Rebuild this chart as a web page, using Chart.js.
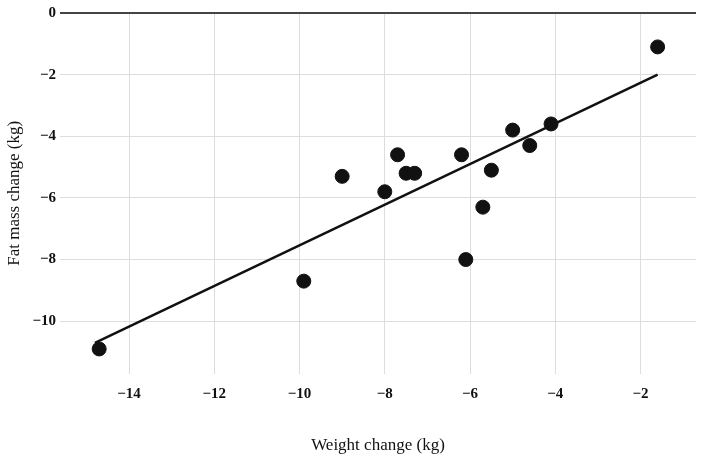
<!DOCTYPE html>
<html><head><meta charset="utf-8">
<script src="https://cdn.jsdelivr.net/npm/chart.js@4"></script>
<style>html,body{margin:0;background:#fff}#wrap{width:704px;height:460px}</style>
</head><body><div id="wrap"><canvas id="c"></canvas></div>
<script>
const weightChange = [-14.7, -9.9, -9.0, -8.0, -7.7, -7.5, -7.3, -6.2, -6.1, -5.7, -5.5, -5.0, -4.6, -4.1, -1.6];
const fatChange = [-10.9, -8.7, -5.3, -5.8, -4.6, -5.2, -5.2, -4.6, -8.0, -6.3, -5.1, -3.8, -4.3, -3.6, -1.1];
const fitX = [-14.8, -1.6];
const fitY = [-10.7, -2.0];

Chart.defaults.font.family = '"Liberation Serif", serif';
Chart.defaults.color = '#111';

new Chart(document.getElementById('c'), {
  type: 'scatter',
  data: {
    datasets: [{
      data: weightChange.map((x, i) => ({x: x, y: fatChange[i]})),
      backgroundColor: '#111', borderColor: '#111', pointRadius: 7
    }, {
      type: 'line',
      data: fitX.map((x, i) => ({x: x, y: fitY[i]})),
      borderColor: '#111', borderWidth: 2.5, pointRadius: 0, fill: false
    }]
  },
  options: {
    responsive: true, maintainAspectRatio: false, animation: false,
    layout: {padding: {top: 6, right: 4}},
    plugins: {legend: {display: false}, tooltip: {enabled: false}},
    scales: {
      x: {
        min: -15.62, max: -0.7,
        afterBuildTicks: s => { s.ticks = [-14, -12, -10, -8, -6, -4, -2].map(v => ({value: v})); },
        ticks: {font: {size: 15, weight: 'bold'}, padding: 12, callback: v => '\u2212' + Math.abs(v)},
        grid: {color: '#ddd', drawTicks: false},
        border: {display: false},
        title: {display: true, text: 'Weight change (kg)', font: {size: 17}, padding: {top: 20}}
      },
      y: {
        min: -11.7, max: 0,
        afterBuildTicks: s => { s.ticks = [0, -2, -4, -6, -8, -10].map(v => ({value: v})); },
        ticks: {font: {size: 15, weight: 'bold'}, padding: 4, callback: v => v === 0 ? '0' : '\u2212' + Math.abs(v)},
        grid: {color: c => c.tick && c.tick.value === 0 ? '#444' : '#ddd', lineWidth: c => c.tick && c.tick.value === 0 ? 2 : 1, drawTicks: false},
        border: {display: false},
        title: {display: true, text: 'Fat mass change (kg)', font: {size: 17}}
      }
    }
  }
});
</script></body></html>
